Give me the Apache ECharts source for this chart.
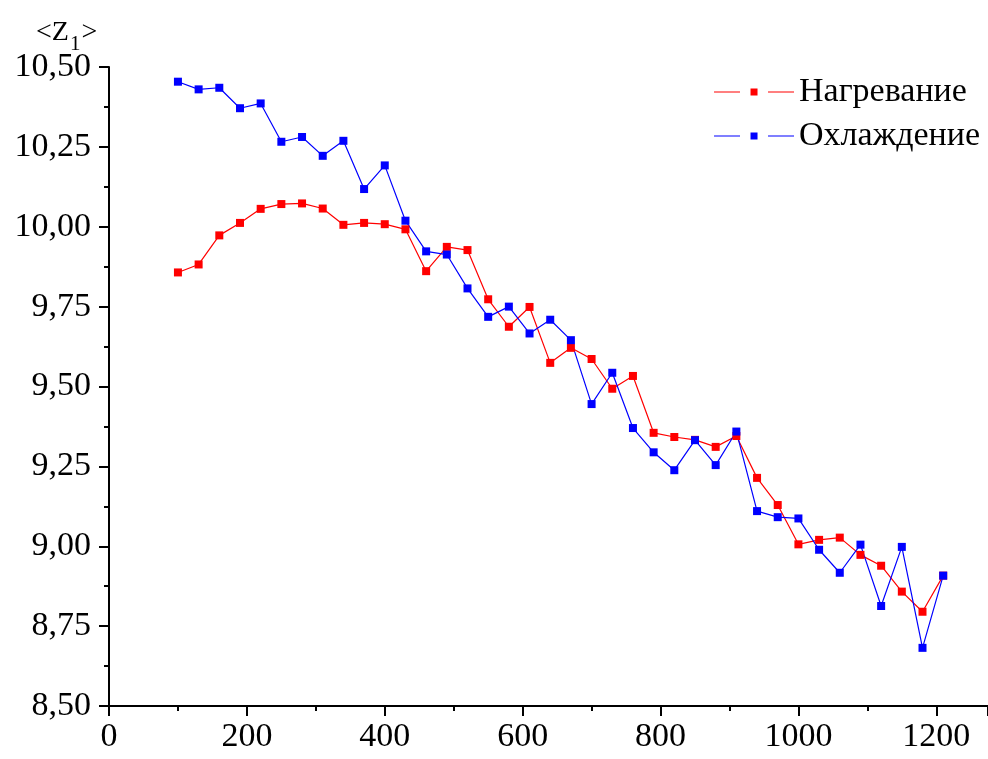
<!DOCTYPE html>
<html>
<head>
<meta charset="utf-8">
<script src="https://cdn.jsdelivr.net/npm/echarts@6/dist/echarts.min.js"></script>
<style>
  html, body { margin: 0; padding: 0; background: #fff; }
  #chart { width: 988px; height: 759px; }
</style>
</head>
<body>
<div id="chart"></div>
<script>
// температура, шаг 30
var temps = [100, 130, 160, 190, 220, 250, 280, 310, 340, 370, 400, 430, 460, 490, 520, 550, 580, 610, 640,
  670, 700, 730, 760, 790, 820, 850, 880, 910, 940, 970, 1000, 1030, 1060, 1090, 1120, 1150, 1180, 1210];

var heating = [9.857, 9.882, 9.973, 10.012, 10.056, 10.071, 10.073, 10.057, 10.006, 10.012, 10.008, 9.992, 9.861,
  9.937, 9.927, 9.773, 9.687, 9.749, 9.574, 9.621, 9.586, 9.493, 9.533, 9.355, 9.342, 9.333, 9.311, 9.345,
  9.214, 9.129, 9.006, 9.020, 9.027, 8.973, 8.939, 8.858, 8.795, 8.908];

var cooling = [10.454, 10.430, 10.435, 10.371, 10.386, 10.266, 10.281, 10.222, 10.269, 10.118, 10.192, 10.019,
  9.923, 9.913, 9.807, 9.718, 9.750, 9.666, 9.709, 9.645, 9.445, 9.543, 9.370, 9.294, 9.238, 9.332, 9.254,
  9.359, 9.110, 9.091, 9.087, 8.989, 8.917, 9.005, 8.813, 8.998, 8.682, 8.908];

var seriesNames = ['Нагревание', 'Охлаждение'];

function pairs(ys) {
  var out = [];
  for (var i = 0; i < temps.length; i++) out.push([temps[i], ys[i]]);
  return out;
}

var font = '"Liberation Serif", "DejaVu Serif", serif';
// значок легенды: линия, квадрат, линия
var legendIcon = 'path://M0,3.5h26v1h-26z M36.5,0.5h7v7h-7z M54,3.5h26v1h-26z M0,0h0.01v0.01h-0.01z M80,8h-0.01v-0.01h0.01z';
var tickFont = { fontFamily: font, fontSize: 34, color: '#000' };

var chart = echarts.init(document.getElementById('chart'));
var option = {
  animation: false,
  backgroundColor: '#fff',
  textStyle: { fontFamily: font, color: '#000' },
  title: {
    text: '{a|<Z}{b|1}{a|>}',
    left: 31,
    top: 6,
    textStyle: {
      fontFamily: font,
      fontWeight: 'normal',
      rich: {
        a: { fontFamily: font, fontSize: 28, fontWeight: 'normal', color: '#000' },
        b: { fontFamily: font, fontSize: 21, fontWeight: 'normal', color: '#000', padding: [23, 1, 0, 1] }
      }
    }
  },
  legend: {
    right: 3,
    top: 70,
    orient: 'vertical',
    icon: legendIcon,
    itemWidth: 80,
    itemHeight: 8,
    itemGap: 10,
    itemTextGap: 10,
    textStyle: { fontFamily: font, fontSize: 34, color: '#000' },
    data: seriesNames
  },
  grid: { left: 109, top: 67, right: 0, bottom: 53 },
  xAxis: {
    type: 'value',
    min: 0,
    max: 1275,
    interval: 200,
    axisLine: { onZero: false, lineStyle: { color: '#000', width: 2 } },
    axisTick: { inside: false, length: 10, lineStyle: { color: '#000', width: 2 } },
    minorTick: { show: true, splitNumber: 2, length: 5, lineStyle: { color: '#000', width: 2 } },
    splitLine: { show: false },
    axisLabel: {
      fontFamily: font, fontSize: 34, color: '#000', margin: 14, showMaxLabel: false,
      rich: { t: tickFont },
      formatter: function (v) { return '{t|' + v + '}'; }
    }
  },
  yAxis: {
    type: 'value',
    min: 8.5,
    max: 10.5,
    interval: 0.25,
    axisLine: { show: true, lineStyle: { color: '#000', width: 2 } },
    axisTick: { show: true, inside: false, length: 10, lineStyle: { color: '#000', width: 2 } },
    minorTick: { show: true, splitNumber: 2, length: 5, lineStyle: { color: '#000', width: 2 } },
    splitLine: { show: false },
    axisLabel: {
      fontFamily: font, fontSize: 34, color: '#000', margin: 18,
      rich: { t: tickFont },
      formatter: function (v) { return '{t|' + v.toFixed(2).replace('.', ',') + '}'; }
    }
  },
  series: [
    {
      name: seriesNames[0],
      type: 'line',
      data: pairs(heating),
      symbol: 'rect',
      symbolSize: 8,
      color: '#ff0000',
      lineStyle: { width: 1.2, color: '#ff0000' },
      itemStyle: { color: '#ff0000' }
    },
    {
      name: seriesNames[1],
      type: 'line',
      data: pairs(cooling),
      symbol: 'rect',
      symbolSize: 8,
      color: '#0000ff',
      lineStyle: { width: 1.2, color: '#0000ff' },
      itemStyle: { color: '#0000ff' }
    }
  ]
};
chart.setOption(option);
</script>
</body>
</html>
